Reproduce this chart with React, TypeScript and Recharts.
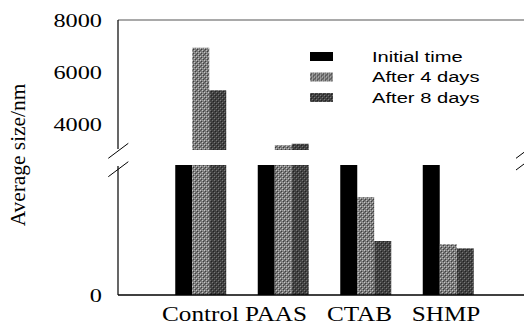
import React from 'react';
import { BarChart, Bar, XAxis, YAxis, ReferenceLine, Legend } from 'recharts';

const categories = ['Control', 'PAAS', 'CTAB', 'SHMP'];
const initialTime = [2000, 2000, 2000, 2000];
const after4Days = [6930, 3180, 752, 390];
const after8Days = [5300, 3240, 415, 359];
const upperTicks = [4000, 6000, 8000];
const lowerTicks = [0];
const seriesNames = ['Initial time', 'After 4 days', 'After 8 days'];

const data = categories.map((name, i) => ({
  name,
  initial: initialTime[i],
  d4: after4Days[i],
  d8: after8Days[i],
}));

const SERIF = 'Liberation Serif, Times New Roman, Times, serif';
const SANS = 'Liberation Sans, Arial, Helvetica, sans-serif';
const PAD = { left: 41.25, right: 41.25 };
const labelShift: Record<string, number> = { Control: 0, PAAS: -7, CTAB: -6, SHMP: -2 };

const YTick = (props: any) => {
  const { x, y, payload } = props;
  return (
    <g transform={`translate(${x},${y})`}>
      <text transform="scale(1.28,1)" x={0} y={0} dy={6.5} textAnchor="end" fontFamily={SERIF} fontSize={19} fill="#000">
        {payload.value}
      </text>
    </g>
  );
};

const XTick = (props: any) => {
  const { x, y, payload } = props;
  const dx = labelShift[payload.value] || 0;
  return (
    <g transform={`translate(${x + dx},${y})`}>
      <text transform="scale(1.2,1)" x={0} y={0} dy={26.5} textAnchor="middle" fontFamily={SERIF} fontSize={21} fill="#000">
        {payload.value}
      </text>
    </g>
  );
};

const renderLegend = (props: any) => {
  const payload = [...(props.payload || [])].sort(
    (a: any, b: any) => seriesNames.indexOf(a.value) - seriesNames.indexOf(b.value)
  );
  return (
    <svg width={220} height={62} style={{ display: 'block', overflow: 'visible' }}>
      {payload.map((entry: any, i: number) => (
        <g key={entry.value} transform={`translate(0, ${i * 20.5})`}>
          <rect x={0} y={0} width={23} height={9} fill={entry.color} />
          <g transform="translate(62, 9.5)">
            <text transform="scale(1.3,1)" x={0} y={0} fontFamily={SANS} fontSize={15.5} fill="#000">
              {entry.value}
            </text>
          </g>
        </g>
      ))}
    </svg>
  );
};

export default function App() {
  return (
    <div style={{ position: 'absolute', left: 0, top: 0, width: 524, height: 326, overflow: 'hidden', background: '#fff' }}>
      <div style={{ position: 'absolute', left: 0, top: 0 }}>
        <BarChart width={540} height={150} data={data} margin={{ top: 20, right: 9.5, bottom: 0, left: 0 }} barGap={0} barSize={17}>
          <defs>
            <pattern id="pat4" width={4} height={4} patternUnits="userSpaceOnUse">
              <rect width={4} height={4} fill="#7c7c7c" />
              <rect x={0} y={0} width={1} height={1} fill="#c4c4c4" />
              <rect x={2} y={2} width={1} height={1} fill="#c4c4c4" />
              <rect x={1} y={1} width={1} height={1} fill="#3c3c3c" />
              <rect x={3} y={3} width={1} height={1} fill="#3c3c3c" />
              <rect x={2} y={0} width={1} height={1} fill="#9c9c9c" />
              <rect x={0} y={2} width={1} height={1} fill="#5c5c5c" />
            </pattern>
            <pattern id="pat8" width={4} height={4} patternUnits="userSpaceOnUse">
              <rect width={4} height={4} fill="#424242" />
              <rect x={0} y={0} width={1} height={1} fill="#787878" />
              <rect x={2} y={2} width={1} height={1} fill="#787878" />
              <rect x={1} y={1} width={1} height={1} fill="#222" />
              <rect x={3} y={3} width={1} height={1} fill="#222" />
            </pattern>
          </defs>
          <XAxis dataKey="name" hide height={0} padding={PAD} />
          <YAxis
            width={118}
            domain={[3000, 8000]}
            ticks={upperTicks}
            allowDataOverflow
            axisLine={{ stroke: '#000', strokeWidth: 1.2 }}
            tickLine={false}
            tickSize={0}
            tickMargin={16}
            tick={<YTick />}
          />
          <ReferenceLine y={8000} stroke="#8c8c8c" strokeWidth={1.5} />
          <Bar dataKey="initial" name={seriesNames[0]} fill="#000" isAnimationActive={false} />
          <Bar dataKey="d4" name={seriesNames[1]} fill="url(#pat4)" isAnimationActive={false} />
          <Bar dataKey="d8" name={seriesNames[2]} fill="url(#pat8)" isAnimationActive={false} />
          <Legend
            layout="vertical"
            align="center"
            verticalAlign="middle"
            content={renderLegend}
            wrapperStyle={{ left: 310, top: 52, width: 220, height: 62 }}
          />
        </BarChart>
      </div>
      <div style={{ position: 'absolute', left: 0, top: 150 }}>
        <BarChart width={540} height={186} data={data} margin={{ top: 15, right: 9.5, bottom: 10, left: 0 }} barGap={0} barSize={17}>
          <XAxis
            dataKey="name"
            height={31}
            padding={PAD}
            axisLine={{ stroke: '#000', strokeWidth: 1.5 }}
            tickLine={false}
            tickSize={0}
            tickMargin={0}
            tick={<XTick />}
            interval={0}
          />
          <YAxis
            width={118}
            domain={[0, 1000]}
            ticks={lowerTicks}
            allowDataOverflow
            axisLine={{ stroke: '#000', strokeWidth: 1.2 }}
            tickLine={false}
            tickSize={0}
            tickMargin={16}
            tick={<YTick />}
          />
          <Bar dataKey="initial" name={seriesNames[0]} fill="#000" isAnimationActive={false} />
          <Bar dataKey="d4" name={seriesNames[1]} fill="url(#pat4)" isAnimationActive={false} />
          <Bar dataKey="d8" name={seriesNames[2]} fill="url(#pat8)" isAnimationActive={false} />
        </BarChart>
      </div>
      <svg width={524} height={326} style={{ position: 'absolute', left: 0, top: 0, pointerEvents: 'none' }}>
        <rect x={116} y={149} width={5} height={17} fill="#fff" />
        <line x1={108.3} y1={158.3} x2={128.3} y2={143.3} stroke="#000" strokeWidth={1} />
        <line x1={108.3} y1={176.7} x2={128.3} y2={161.7} stroke="#000" strokeWidth={1} />
        <line x1={516} y1={158.3} x2={536} y2={143.3} stroke="#000" strokeWidth={1} />
        <line x1={516} y1={170} x2={536} y2={155} stroke="#000" strokeWidth={1} />
        <g transform="translate(25,155) rotate(-90)">
          <text transform="scale(1.07,1)" x={0} y={0} textAnchor="middle" fontFamily={SERIF} fontSize={20} fill="#000">
            Average size/nm
          </text>
        </g>
      </svg>
    </div>
  );
}
